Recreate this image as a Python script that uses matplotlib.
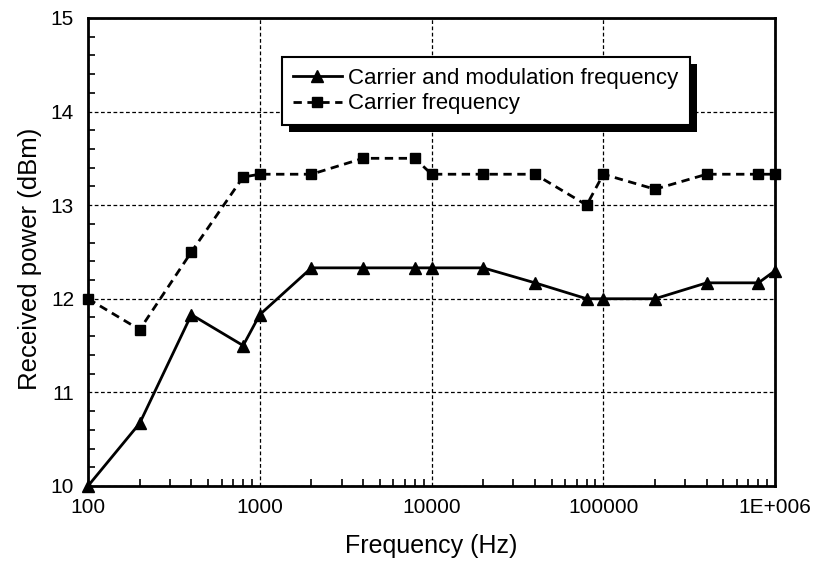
import matplotlib.pyplot as plt
import matplotlib.patheffects as pe
from matplotlib.ticker import FixedLocator, NullFormatter, MultipleLocator

plt.rcParams['font.family'] = ['Liberation Sans', 'DejaVu Sans']

freq = [100, 200, 400, 800, 1000, 2000, 4000, 8000, 10000, 20000, 40000,
        80000, 100000, 200000, 400000, 800000, 1000000]
carrier_mod = [10.0, 10.67, 11.83, 11.5, 11.83, 12.33, 12.33, 12.33, 12.33,
               12.33, 12.17, 12.0, 12.0, 12.0, 12.17, 12.17, 12.3]
carrier = [12.0, 11.67, 12.5, 13.3, 13.33, 13.33, 13.5, 13.5, 13.33, 13.33,
           13.33, 13.0, 13.33, 13.17, 13.33, 13.33, 13.33]

xticks = [100, 1000, 10000, 100000, 1000000]
xticklabels = ['100', '1000', '10000', '100000', '1E+006']
yticks = [10, 11, 12, 13, 14, 15]

fig = plt.figure(figsize=(8.17, 5.64), dpi=100)
ax = fig.add_axes([0.1077, 0.1383, 0.841, 0.830])

ax.plot(freq, carrier_mod, color='black', lw=2, marker='^', ms=9,
        label='Carrier and modulation frequency', clip_on=False, zorder=3)
ax.plot(freq, carrier, color='black', lw=2, ls=(0, (3, 2)), marker='s', ms=7.5,
        label='Carrier frequency', clip_on=False, zorder=3)

ax.set_xscale('log')
ax.set_xlim(100, 1000000)
ax.set_ylim(10, 15)
ax.xaxis.set_major_locator(FixedLocator(xticks))
ax.set_xticklabels(xticklabels)
ax.xaxis.set_minor_locator(FixedLocator(
    [m * 10 ** e for e in range(2, 6) for m in range(2, 10)]))
ax.xaxis.set_minor_formatter(NullFormatter())
ax.set_yticks(yticks)
ax.yaxis.set_minor_locator(MultipleLocator(0.2))

ax.tick_params(which='both', direction='in', top=False, right=False,
               labelsize=15, width=1.2)
ax.tick_params(which='major', length=0)
ax.tick_params(axis='x', which='major', pad=9)
ax.tick_params(axis='y', which='major', pad=10)
ax.tick_params(which='minor', length=5)

for s in ax.spines.values():
    s.set_linewidth(2)

ax.grid(True, which='major', color='black', ls=(0, (3, 2)), lw=0.9)

ax.set_xlabel('Frequency (Hz)', fontsize=18, labelpad=12)
ax.set_ylabel('Received power (dBm)', fontsize=18.5)
ax.yaxis.set_label_coords(-0.067, 0.485)

leg = ax.legend(loc='upper left', bbox_to_anchor=(0.282, 0.917), fontsize=16,
                frameon=True, fancybox=False, edgecolor='black', framealpha=1,
                handlelength=2.2, handletextpad=0.3, borderpad=0.5,
                labelspacing=0.2, borderaxespad=0)
leg.get_frame().set_linewidth(1.5)
leg.get_frame().set_path_effects([
    pe.SimplePatchShadow(offset=(5, -5), shadow_rgbFace='black', alpha=1),
    pe.Normal()])

fig.savefig('out.png', dpi=100)
